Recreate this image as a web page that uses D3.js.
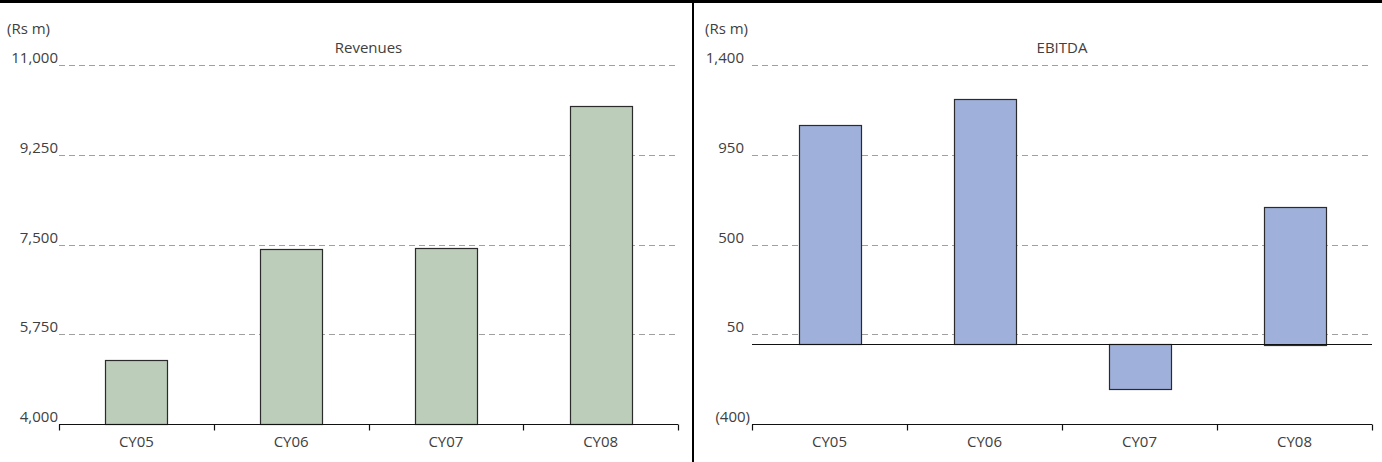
<!DOCTYPE html>
<html>
<head>
<meta charset="utf-8">
<script src="https://cdn.jsdelivr.net/npm/d3@7"></script>
<style>
  html, body { margin: 0; padding: 0; background: #fff; }
  svg text { font-family: "Open Sans", "DejaVu Sans", sans-serif; font-size: 15px; fill: #404040; }
</style>
</head>
<body>
<svg id="chart" width="1382" height="462"></svg>
<script>
// Company financials, CY05–CY08 (Rs m)
const categories = ["CY05", "CY06", "CY07", "CY08"];
const revenues = [5250, 7420, 7440, 10200];
const ebitda = [1100, 1230, -225, 690];
const revenueTicks = [4000, 5750, 7500, 9250, 11000];
const ebitdaTicks = [-400, 50, 500, 950, 1400];

const svg = d3.select("#chart");
const fmt = d3.format(",");
const fmtParen = v => v < 0 ? "(" + fmt(-v) + ")" : fmt(v);

function panel(opts) {
  const g = svg.append("g");
  const x = d3.scaleBand().domain(categories).range([opts.x0, opts.x1]).paddingInner(0.6).paddingOuter(0.3);
  const y = d3.scaleLinear().domain(opts.domain).range([424, 65]);

  // dashed gridlines
  g.selectAll("line.grid").data(opts.ticks.slice(1)).join("line")
    .attr("x1", opts.x0).attr("x2", opts.x1)
    .attr("y1", d => Math.round(y(d)) + 0.5).attr("y2", d => Math.round(y(d)) + 0.5)
    .attr("stroke", "#a0a0a0").attr("stroke-width", 1).attr("stroke-dasharray", "6,4");

  // tick labels (negative values in brackets hang slightly further right)
  g.selectAll("text.ytick").data(opts.ticks).join("text")
    .attr("x", d => d < 0 ? opts.labelX + opts.negShift : opts.labelX)
    .attr("y", d => y(d) - 2)
    .attr("text-anchor", "end").text(opts.format);

  // bars
  g.selectAll("rect.bar").data(opts.values).join("rect")
    .attr("x", (d, i) => Math.round(x(categories[i])) + 0.5)
    .attr("width", Math.round(x.bandwidth()))
    .attr("y", d => Math.round(y(Math.max(d, opts.base))) + 0.5)
    .attr("height", d => Math.round(Math.abs(y(d) - y(opts.base))))
    .attr("fill", opts.color).attr("stroke", "#2b2b2b").attr("stroke-width", 1.2);

  // baseline at zero
  if (opts.base !== opts.domain[0]) {
    g.append("line").attr("x1", opts.x0).attr("x2", opts.x1)
      .attr("y1", Math.round(y(opts.base)) + 0.5).attr("y2", Math.round(y(opts.base)) + 0.5)
      .attr("stroke", "#111").attr("stroke-width", 1.2);
  }

  // category axis
  const axisY = Math.round(y(opts.domain[0])) + 0.5;
  g.append("line").attr("x1", opts.x0).attr("x2", opts.x1)
    .attr("y1", axisY).attr("y2", axisY).attr("stroke", "#111").attr("stroke-width", 1.2);
  const step = (opts.x1 - opts.x0) / categories.length;
  g.selectAll("line.xtick").data(d3.range(categories.length + 1)).join("line")
    .attr("x1", i => Math.round(opts.x0 + i * step) + 0.5)
    .attr("x2", i => Math.round(opts.x0 + i * step) + 0.5)
    .attr("y1", axisY).attr("y2", axisY + 6).attr("stroke", "#111").attr("stroke-width", 1.2);
  g.selectAll("text.xlab").data(categories).join("text")
    .attr("x", d => x(d) + x.bandwidth() / 2).attr("y", 447)
    .attr("text-anchor", "middle").text(d => d);

  // unit and title
  g.append("text").attr("x", opts.unitX).attr("y", 34).text("(Rs m)");
  g.append("text").attr("x", (opts.x0 + opts.x1) / 2).attr("y", 53)
    .attr("text-anchor", "middle").text(opts.title);
}

panel({ x0: 59, x1: 678, domain: [4000, 11000], ticks: revenueTicks, values: revenues,
  base: 4000, color: "#bccdb9", labelX: 58, negShift: 0, unitX: 7, title: "Revenues", format: fmt });
panel({ x0: 752, x1: 1372, domain: [-400, 1400], ticks: ebitdaTicks, values: ebitda,
  base: 0, color: "#9fb1db", labelX: 744, negShift: 6, unitX: 705, title: "EBITDA", format: fmtParen });

// frame: top rule and panel divider
svg.append("line").attr("x1", 0).attr("x2", 1382).attr("y1", 1.5).attr("y2", 1.5)
  .attr("stroke", "#000").attr("stroke-width", 3);
svg.append("line").attr("x1", 693).attr("x2", 693).attr("y1", 0).attr("y2", 462)
  .attr("stroke", "#000").attr("stroke-width", 2);
</script>
</body>
</html>
